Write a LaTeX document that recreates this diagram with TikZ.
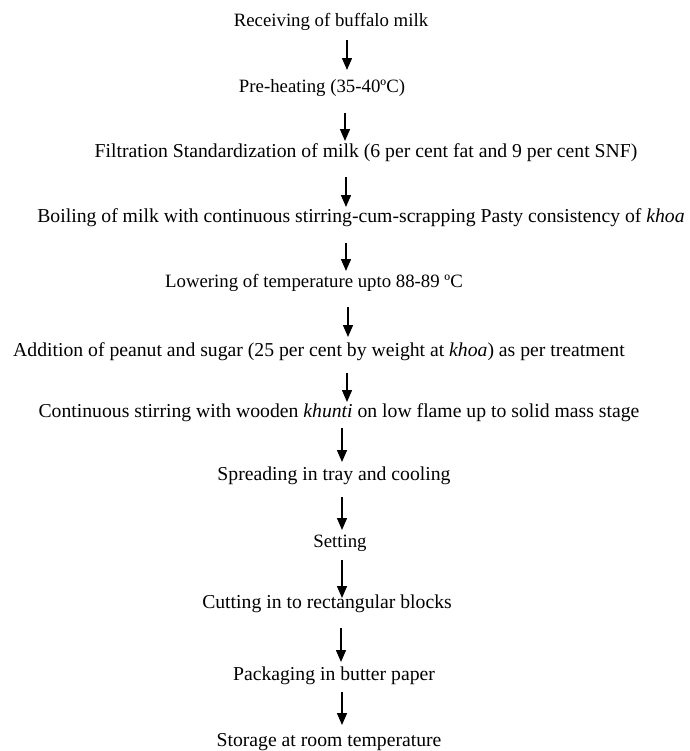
\documentclass[tikz,border=0pt]{standalone}
\usepackage{fontspec}
\setmainfont{Liberation Serif}
\usetikzlibrary{arrows.meta}
\begin{document}
\begin{tikzpicture}[x=0.5pt,y=-0.5pt,
	stage node/.style = {inner sep = 0pt, font=\fontsize{9.85}{11}\selectfont},
	tight node/.style = {stage node, font=\fontsize{9.4}{11}\selectfont},
	flow/.style = {-{Triangle[width=5pt,length=6pt]}, line width=0.7pt}]
	\useasboundingbox (0,0) rectangle (690,751);
	
	\node[tight node] at (331,22) (1) {Receiving of buffalo milk};
	\node[tight node] at (322,88) (2) {Pre-heating (35-40ºC)};
	\node[stage node] at (366,153) (3) {Filtration Standardization of milk (6 per cent fat and 9 per cent SNF)};
	\node[stage node] at (361,218) (4) {Boiling of milk with continuous stirring-cum-scrapping Pasty consistency of \textit{khoa}};
	\node[tight node] at (314,283) (5) {Lowering of temperature upto 88-89 ºC};
	\node[stage node] at (319,352) (6) {Addition of peanut and sugar (25 per cent by weight at \textit{khoa}) as per treatment};
	\node[stage node] at (339,413) (7) {Continuous stirring with wooden \textit{khunti} on low flame up to solid mass stage};
	\node[stage node] at (334,476) (8) {Spreading in tray and cooling};
	\node[tight node] at (340,543) (9) {Setting};
	\node[stage node] at (327,604) (10) {Cutting in to rectangular blocks};
	\node[stage node] at (334,676) (11) {Packaging in butter paper};
	\node[stage node] at (329,742) (12) {Storage at room temperature};
	
	\foreach \x/\ya/\yb [count=\i] in {347/40/70, 345/113/141, 346/177/207, 346/243/271,
		348/307/337, 347/373/402, 342/428/462, 342/497/530, 342/560/598, 341/628/662, 342/692/725} {
		\coordinate (t\i) at (\x,\ya);
		\coordinate (h\i) at (\x,\yb);
		\draw[flow] (t\i) -- (h\i);
	}
\end{tikzpicture}
\end{document}
